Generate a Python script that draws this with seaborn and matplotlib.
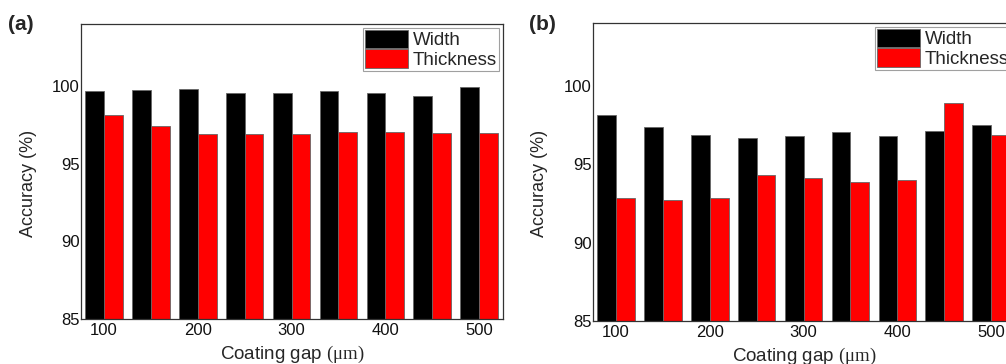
import pandas as pd
import seaborn as sns
import matplotlib.pyplot as plt

# coating gap in um
gaps = [100, 150, 200, 250, 300, 350, 400, 450, 500]
series_names = ['Width', 'Thickness']

# panel (a)
width_a = [99.68, 99.76, 99.81, 99.57, 99.53, 99.66, 99.53, 99.38, 99.92]
thick_a = [98.17, 97.45, 96.92, 96.92, 96.92, 97.02, 97.06, 96.98, 96.98]

# panel (b)
width_b = [98.15, 97.40, 96.85, 96.66, 96.79, 97.02, 96.79, 97.13, 97.49]
thick_b = [92.87, 92.74, 92.87, 94.34, 94.11, 93.85, 93.96, 98.90, 96.89]

y_ticks = [85, 90, 95, 100]
x_ticks = [100, 200, 300, 400, 500]

sns.set_style('white')
plt.rcParams['font.family'] = ['Liberation Sans', 'DejaVu Sans']
plt.rcParams['mathtext.fontset'] = 'custom'
plt.rcParams['mathtext.rm'] = 'Liberation Serif'


def long_form(w, t):
    return pd.DataFrame({
        'gap': gaps * 2,
        'acc': w + t,
        'kind': [series_names[0]] * len(w) + [series_names[1]] * len(t),
    })


fig = plt.figure(figsize=(10.06, 3.64), dpi=100)
ax_a = fig.add_axes([81 / 1006, 45 / 364, 422 / 1006, 295 / 364])
ax_b = fig.add_axes([593 / 1006, 43 / 364, 422 / 1006, 298 / 364])

panels = [(ax_a, width_a, thick_a, '(a)', 8, -0.104),
          (ax_b, width_b, thick_b, '(b)', 529, -0.107)]

for ax, w, t, tag, tag_x, ylab_x in panels:
    df = long_form(w, t)
    sns.barplot(data=df, x='gap', y='acc', hue='kind', native_scale=True,
                palette=['black', 'red'], saturation=1, errorbar=None,
                edgecolor='#666666', linewidth=0.6, ax=ax)
    ax.set_xlim(75.5, 525.5)
    ax.set_ylim(85, 104)
    ax.set_xticks(x_ticks)
    ax.set_yticks(y_ticks)
    ax.tick_params(length=0, labelsize=12, colors='#111111')
    ax.tick_params(axis='x', pad=3)
    ax.tick_params(axis='y', pad=1)
    for s in ax.spines.values():
        s.set_visible(True)
        s.set_color('#333333')
        s.set_linewidth(0.9)
    ax.set_xlabel('Coating gap $\\mathrm{(μm)}$', fontsize=13.5)
    ax.set_ylabel('Accuracy (%)', fontsize=13)
    ax.xaxis.set_label_coords(0.5, -0.085)
    ax.yaxis.set_label_coords(ylab_x, 0.46)
    leg = ax.legend(loc='upper right', fontsize=13.5, frameon=True,
                    fancybox=False, handlelength=2.3, handleheight=1.12,
                    labelspacing=0.0, handletextpad=0.25, borderpad=0.12,
                    borderaxespad=0.2)
    leg.get_frame().set_edgecolor('#888888')
    leg.get_frame().set_linewidth(0.8)
    fig.text(tag_x / 1006, 1 - 15 / 364, tag, fontsize=15, fontweight='bold',
             va='top', ha='left')

fig.savefig('out.png', dpi=100)
